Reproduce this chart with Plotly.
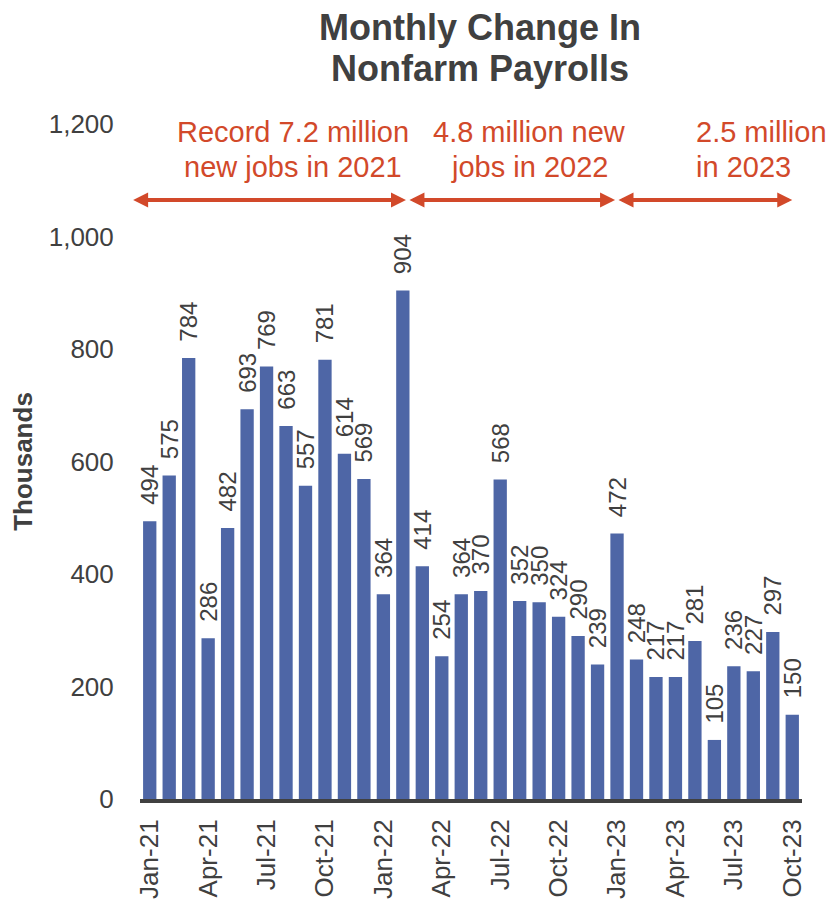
import plotly.graph_objects as go

# Monthly change in nonfarm payrolls, thousands
months = [
    "Jan-21", "Feb-21", "Mar-21", "Apr-21", "May-21", "Jun-21",
    "Jul-21", "Aug-21", "Sep-21", "Oct-21", "Nov-21", "Dec-21",
    "Jan-22", "Feb-22", "Mar-22", "Apr-22", "May-22", "Jun-22",
    "Jul-22", "Aug-22", "Sep-22", "Oct-22", "Nov-22", "Dec-22",
    "Jan-23", "Feb-23", "Mar-23", "Apr-23", "May-23", "Jun-23",
    "Jul-23", "Aug-23", "Sep-23", "Oct-23",
]
payroll_change = [
    494, 575, 784, 286, 482, 693, 769, 663, 557, 781, 614, 569,
    364, 904, 414, 254, 364, 370, 568, 352, 350, 324, 290, 239,
    472, 248, 217, 217, 281, 105, 236, 227, 297, 150,
]
tick_months = months[::3]
y_ticks = [0, 200, 400, 600, 800, 1000, 1200]

# Period notes: (first line, second line)
period_notes = [
    ("Record 7.2 million", "new jobs in 2021"),
    ("4.8 million new", "jobs in 2022"),
    ("2.5 million", "in 2023"),
]

TEXT = "#404040"
RED = "#D2492A"
BAR = "#4E66A6"
FONT = "Liberation Sans, Arial, sans-serif"

fig = go.Figure(
    go.Bar(
        x=months,
        y=payroll_change,
        marker=dict(color=BAR, line=dict(width=0)),
        texttemplate="\u00a0\u00a0%{y}",
        textposition="outside",
        textangle=-90,
        constraintext="none",
        cliponaxis=False,
        textfont=dict(family=FONT, size=24, color=TEXT),
        hoverinfo="x+y",
    )
)

annotations = []

# Double-headed arrows spanning each year (x in category index units)
arrow_y = 1065
arrow_spans = [(-0.93, 13.16), (13.26, 23.9), (24.0, 33.0)]
for x0, x1 in arrow_spans:
    annotations.append(dict(
        x=x1, y=arrow_y, ax=x0, ay=arrow_y,
        xref="x", yref="y", axref="x", ayref="y",
        text="", showarrow=True,
        arrowside="end+start",
        arrowhead=2, startarrowhead=2,
        arrowsize=0.75, startarrowsize=0.75,
        arrowwidth=4, arrowcolor=RED,
        standoff=0, startstandoff=0,
    ))

# Period notes above the arrows
note_pos = [(7.35, "center"), (19.5, "center"), (27.95, "left")]
for (l1, l2), (nx, anchor) in zip(period_notes, note_pos):
    for text, ny in ((l1, 1186), (l2, 1124)):
        annotations.append(dict(
            x=nx, y=ny, xref="x", yref="y",
            text=text, showarrow=False,
            xanchor=anchor, yanchor="middle",
            font=dict(family=FONT, size=29, color=RED),
        ))

W, H = 827, 900
L, R, T, B = 140, 25, 124, 101

# Two-line title, placed by pixel position converted to paper coordinates
for text, ty in (("Monthly Change In", 28), ("Nonfarm Payrolls", 68)):
    annotations.append(dict(
        x=(480 - L) / (W - L - R), y=1 + (T - ty) / (H - T - B),
        xref="paper", yref="paper",
        text=f"<b>{text}</b>", showarrow=False,
        xanchor="center", yanchor="middle",
        font=dict(family=FONT, size=36, color=TEXT),
    ))

fig.update_layout(
    width=W, height=H,
    margin=dict(l=L, r=R, t=T, b=B, autoexpand=False),
    paper_bgcolor="white", plot_bgcolor="white",
    bargap=0.316,
    showlegend=False,
    font=dict(family=FONT, color=TEXT),
    annotations=annotations,
    xaxis=dict(
        type="category",
        tickmode="array", tickvals=tick_months, ticktext=tick_months,
        tickangle=-90,
        tickfont=dict(family=FONT, size=26, color=TEXT),
        ticks="outside", ticklen=6, tickcolor="rgba(0,0,0,0)",
        showline=True, linecolor=TEXT, linewidth=4,
        showgrid=False, zeroline=False,
        range=[-0.5, len(months) - 0.5],
    ),
    yaxis=dict(
        range=[0, 1200],
        tickvals=y_ticks, tickformat=",",
        tickfont=dict(family=FONT, size=26, color=TEXT),
        ticks="outside", ticklen=20, tickcolor="rgba(0,0,0,0)",
        showline=False, showgrid=False, zeroline=False,
        title=dict(text="<b>Thousands</b>", standoff=8,
                   font=dict(family=FONT, size=26, color=TEXT)),
    ),
)

fig.write_html("out.html")
